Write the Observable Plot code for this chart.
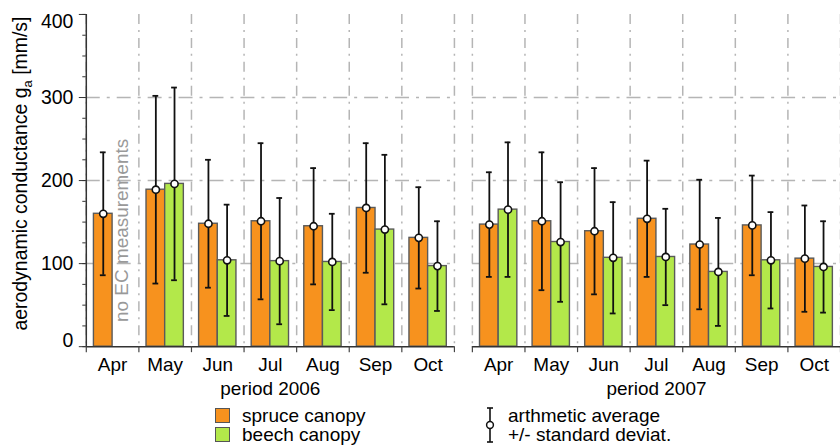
<!DOCTYPE html>
<html>
<head>
<meta charset="utf-8">
<script src="https://cdn.jsdelivr.net/npm/d3@7"></script>
<script src="https://cdn.jsdelivr.net/npm/@observablehq/plot@0.6"></script>
<style>
  html, body { margin: 0; padding: 0; background: #fff; overflow: hidden; }
  body { width: 840px; height: 446px; position: relative; font-family: "Liberation Sans", Arial, sans-serif; color: #000; }
  #chart { position: absolute; left: 0; top: 0; }
  .leg { position: absolute; font-size: 19px; line-height: 19px; white-space: nowrap; }
  .sw { position: absolute; width: 13px; height: 13px; border: 1.5px solid #555; }
</style>
</head>
<body>
<div id="chart"></div>
<div id="legend"></div>
<script>
// Monthly aerodynamic conductance g_a (mm/s): arithmetic mean and standard deviation
const months = ["Apr", "May", "Jun", "Jul", "Aug", "Sep", "Oct"];
const periods = ["2006", "2007"];
const canopies = ["spruce", "beech"];
const canopyLabels = ["spruce canopy", "beech canopy"];
const canopyColors = ["#f7921e", "#b3e84a"];

const spruceMean2006 = [160, 189, 148, 151, 145, 167, 131];
const spruceSd2006   = [74, 113, 77, 94, 70, 78, 61];
const beechMean2006  = [null, 196, 104, 103, 102, 141, 97];
const beechSd2006    = [null, 116, 67, 76, 58, 90, 54];

const spruceMean2007 = [147, 151, 139, 154, 123, 146, 106];
const spruceSd2007   = [63, 83, 76, 70, 78, 60, 64];
const beechMean2007  = [165, 126, 107, 108, 90, 104, 96];
const beechSd2007    = [81, 72, 67, 58, 65, 58, 55];

const yMajorTicks = [0, 100, 200, 300, 400];
const yGrid = [100, 200, 300];
const noDataNote = "no EC measurements";

// Long-format table: one row per period, month and canopy
const series = {
  "2006": {spruce: [spruceMean2006, spruceSd2006], beech: [beechMean2006, beechSd2006]},
  "2007": {spruce: [spruceMean2007, spruceSd2007], beech: [beechMean2007, beechSd2007]}
};
const rows = [];
for (const period of periods) {
  canopies.forEach((canopy, c) => {
    const [mean, sd] = series[period][canopy];
    months.forEach((month, i) => {
      if (mean[i] == null) return;
      rows.push({period, month, i, canopy, c, mean: mean[i], sd: sd[i]});
    });
  });
}

// Within each month slot: outer padding, then the two bars side by side
const pad = 0.145;
const barW = (1 - 2 * pad) / 2;
const left = d => d.i + pad + d.c * barW;
const mid = d => left(d) + barW / 2;
const capHalf = 0.055;

const boundaries = d3.range(0, months.length + 1);
const centers = months.map((m, i) => i + 0.5);
const gridStyle = {stroke: "#b5b5b5", strokeWidth: 1.5};
const xTickFont = 19;
const yTickFont = 19.5;

const plot = Plot.plot({
  width: 842,
  height: 400,
  marginTop: 14,
  marginBottom: 53,
  marginLeft: 85,
  marginRight: 0,
  style: {fontFamily: "'Liberation Sans', Arial, sans-serif", fontSize: "19px", background: "transparent", overflow: "visible"},
  fx: {domain: periods, paddingInner: 0.0475, paddingOuter: 0, axis: null},
  x: {domain: [0, months.length]},
  y: {domain: [0, 400]},
  color: {domain: canopies, range: canopyColors},
  marks: [
    // dash-dot grid
    Plot.ruleY(yGrid, {...gridStyle, strokeDasharray: "14,7,3,7"}),
    Plot.ruleX(boundaries, {...gridStyle, strokeDasharray: "10,6,2,6"}),

    // note in the empty beech slot of April 2006
    Plot.text([{period: periods[0], i: 0, c: 1, label: noDataNote}], {
      fx: "period", x: mid, y: () => 140, text: "label",
      rotate: -90, fill: "#999", fontSize: 19
    }),

    // bars
    Plot.rectY(rows, {
      fx: "period", x1: left, x2: d => left(d) + barW, y: "mean",
      fill: "canopy", stroke: "#5a5a5a", strokeWidth: 1.4
    }),

    // +/- standard deviation whiskers with caps
    Plot.ruleX(rows, {fx: "period", x: mid, y1: d => d.mean - d.sd, y2: d => d.mean + d.sd, stroke: "#111", strokeWidth: 1.8}),
    Plot.ruleY(rows, {fx: "period", y: d => d.mean + d.sd, x1: d => mid(d) - capHalf, x2: d => mid(d) + capHalf, stroke: "#111", strokeWidth: 1.8}),
    Plot.ruleY(rows, {fx: "period", y: d => d.mean - d.sd, x1: d => mid(d) - capHalf, x2: d => mid(d) + capHalf, stroke: "#111", strokeWidth: 1.8}),
    // arithmetic average
    Plot.dot(rows, {fx: "period", x: mid, y: "mean", r: 3.6, fill: "white", stroke: "#111", strokeWidth: 1.6}),

    // x axis: baseline, month boundary ticks, month names
    Plot.ruleY([0], {stroke: "#333", strokeWidth: 1.5}),
    Plot.axisX({ticks: boundaries, tickSize: 6, tickFormat: () => "", stroke: "#444", strokeWidth: 1.2, label: null}),
    Plot.axisX({ticks: centers, tickSize: 0, tickPadding: 11, tickFormat: d => months[Math.floor(d)], fontSize: xTickFont, label: null}),
    Plot.text(periods, {fx: d => d, text: d => "period " + d, frameAnchor: "bottom", lineAnchor: "middle", dy: 42, fontSize: 19}),

    // y axis: line on the first panel, major and minor ticks
    Plot.ruleX([periods[0]], {fx: d => d, x: () => 0, stroke: "#333", strokeWidth: 1.5}),
    Plot.axisY({ticks: d3.range(0, 401, 25), tickSize: 3.5, tickFormat: () => "", stroke: "#333", label: null}),
    Plot.axisY({ticks: yMajorTicks.slice(1, -1), tickSize: 7, tickPadding: 6, stroke: "#333", fontSize: yTickFont, label: null}),
    Plot.axisY({ticks: yMajorTicks.slice(-1), tickSize: 7, tickPadding: 6, lineAnchor: "top", stroke: "#333", fontSize: yTickFont, label: null}),
    Plot.axisY({ticks: yMajorTicks.slice(0, 1), tickSize: 7, tickPadding: 6, lineAnchor: "bottom", stroke: "#333", fontSize: yTickFont, label: null})
  ]
});
document.getElementById("chart").appendChild(plot);

// y-axis title with subscript
const yTitle = d3.select(plot).append("text")
  .attr("transform", "translate(27,174) rotate(-90)")
  .attr("text-anchor", "middle")
  .attr("fill", "#000")
  .style("font-size", "19.5px");
yTitle.append("tspan").text("aerodynamic conductance g");
yTitle.append("tspan").attr("dy", 5).style("font-size", "13px").text("a");
yTitle.append("tspan").attr("dy", -5).text(" [mm/s]");

// legend below the plot
const legend = d3.select("#legend");
canopyLabels.forEach((label, k) => {
  legend.append("div").attr("class", "sw")
    .style("left", "215px").style("top", (408 + k * 19) + "px")
    .style("background", canopyColors[k]);
  legend.append("div").attr("class", "leg")
    .style("left", "242px").style("top", (406 + k * 19) + "px")
    .text(label);
});
const icon = legend.append("svg")
  .attr("width", 14).attr("height", 40)
  .style("position", "absolute").style("left", "483px").style("top", "405px");
icon.append("line").attr("x1", 7).attr("x2", 7).attr("y1", 3).attr("y2", 37).attr("stroke", "#111").attr("stroke-width", 1.6);
icon.append("line").attr("x1", 4).attr("x2", 10).attr("y1", 3).attr("y2", 3).attr("stroke", "#111").attr("stroke-width", 1.6);
icon.append("line").attr("x1", 4).attr("x2", 10).attr("y1", 37).attr("y2", 37).attr("stroke", "#111").attr("stroke-width", 1.6);
icon.append("circle").attr("cx", 7).attr("cy", 20).attr("r", 3.4).attr("fill", "#fff").attr("stroke", "#111").attr("stroke-width", 1.5);
["arthmetic average", "+/- standard deviat."].forEach((label, k) => {
  legend.append("div").attr("class", "leg")
    .style("left", "508px").style("top", (406 + k * 19) + "px")
    .text(label);
});
</script>
</body>
</html>
